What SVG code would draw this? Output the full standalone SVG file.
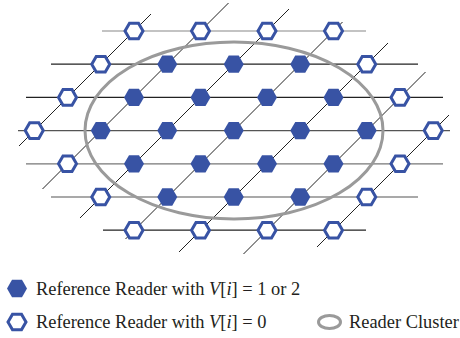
<svg xmlns="http://www.w3.org/2000/svg" xmlns:xlink="http://www.w3.org/1999/xlink" width="460" height="338" viewBox="0 0 460 338">
  <style>
    .diag { stroke: #222; stroke-width: 1; fill: none; }
    .row { stroke-width: 1.2; fill: none; }
    .cluster { fill: none; stroke: #9a9a9a; stroke-width: 3; }
    .active { fill: #3853a4; }
    .idle { fill: #fff; stroke: #3853a4; stroke-width: 3; }
    .label { font-family: "Liberation Serif", "Times New Roman", serif; font-size: 18.4px; fill: #231f20; }
  </style>
  <defs>
    <!-- flat-topped hexagons for the two reader states -->
    <polygon id="hexFull" points="10,0 5,8.66 -5,8.66 -10,0 -5,-8.66 5,-8.66"/>
    <polygon id="hexOpen" points="9,0 4.5,7.8 -4.5,7.8 -9,0 -4.5,-7.8 4.5,-7.8"/>
  </defs>

  <!-- lattice connectors -->
  <g id="connectors">
    <line class="row" stroke="#888" x1="102" y1="31" x2="366" y2="31"/>
    <line class="row" stroke="#222" x1="51" y1="64.2" x2="418" y2="64.2"/>
    <line class="row" stroke="#222" x1="26" y1="97.4" x2="443" y2="97.4"/>
    <line class="row" stroke="#555" x1="18" y1="130.6" x2="450" y2="130.6"/>
    <line class="row" stroke="#777" x1="26" y1="163.8" x2="443" y2="163.8"/>
    <line class="row" stroke="#555" x1="51" y1="197" x2="418" y2="197"/>
    <line class="row" stroke="#222" x1="103" y1="230.2" x2="366" y2="230.2"/>

    <line class="diag" x1="151" y1="14" x2="19" y2="146"/>
    <line class="diag" x1="228.5" y1="3" x2="42.5" y2="189"/>
    <line class="diag" x1="289" y1="9" x2="80" y2="218"/>
    <line class="diag" x1="342.5" y1="22" x2="125.5" y2="239"/>
    <line class="diag" x1="388" y1="43" x2="179" y2="252"/>
    <line class="diag" x1="425.5" y1="72" x2="243.5" y2="254"/>
    <line class="diag" x1="449" y1="115" x2="317" y2="247"/>
  </g>

  <!-- reader cluster boundary -->
  <ellipse id="cluster" class="cluster" cx="234" cy="130.5" rx="149" ry="88.5"/>

  <!-- row 0 -->
  <g id="n0_4"><use xlink:href="#hexOpen" class="idle" x="134" y="31"/></g>
  <g id="n0_6"><use xlink:href="#hexOpen" class="idle" x="200.5" y="31"/></g>
  <g id="n0_8"><use xlink:href="#hexOpen" class="idle" x="267" y="31"/></g>
  <g id="n0_10"><use xlink:href="#hexOpen" class="idle" x="333.5" y="31"/></g>
  <!-- row 1 -->
  <g id="n1_3"><use xlink:href="#hexOpen" class="idle" x="100.75" y="64.2"/></g>
  <g id="n1_5"><use xlink:href="#hexFull" class="active" x="167.25" y="64.2"/></g>
  <g id="n1_7"><use xlink:href="#hexFull" class="active" x="233.75" y="64.2"/></g>
  <g id="n1_9"><use xlink:href="#hexFull" class="active" x="300.25" y="64.2"/></g>
  <g id="n1_11"><use xlink:href="#hexOpen" class="idle" x="366.75" y="64.2"/></g>
  <!-- row 2 -->
  <g id="n2_2"><use xlink:href="#hexOpen" class="idle" x="67.5" y="97.4"/></g>
  <g id="n2_4"><use xlink:href="#hexFull" class="active" x="134" y="97.4"/></g>
  <g id="n2_6"><use xlink:href="#hexFull" class="active" x="200.5" y="97.4"/></g>
  <g id="n2_8"><use xlink:href="#hexFull" class="active" x="267" y="97.4"/></g>
  <g id="n2_10"><use xlink:href="#hexFull" class="active" x="333.5" y="97.4"/></g>
  <g id="n2_12"><use xlink:href="#hexOpen" class="idle" x="400" y="97.4"/></g>
  <!-- row 3 -->
  <g id="n3_1"><use xlink:href="#hexOpen" class="idle" x="34.25" y="130.6"/></g>
  <g id="n3_3"><use xlink:href="#hexFull" class="active" x="100.75" y="130.6"/></g>
  <g id="n3_5"><use xlink:href="#hexFull" class="active" x="167.25" y="130.6"/></g>
  <g id="n3_7"><use xlink:href="#hexFull" class="active" x="233.75" y="130.6"/></g>
  <g id="n3_9"><use xlink:href="#hexFull" class="active" x="300.25" y="130.6"/></g>
  <g id="n3_11"><use xlink:href="#hexFull" class="active" x="366.75" y="130.6"/></g>
  <g id="n3_13"><use xlink:href="#hexOpen" class="idle" x="433.25" y="130.6"/></g>
  <!-- row 4 -->
  <g id="n4_2"><use xlink:href="#hexOpen" class="idle" x="67.5" y="163.8"/></g>
  <g id="n4_4"><use xlink:href="#hexFull" class="active" x="134" y="163.8"/></g>
  <g id="n4_6"><use xlink:href="#hexFull" class="active" x="200.5" y="163.8"/></g>
  <g id="n4_8"><use xlink:href="#hexFull" class="active" x="267" y="163.8"/></g>
  <g id="n4_10"><use xlink:href="#hexFull" class="active" x="333.5" y="163.8"/></g>
  <g id="n4_12"><use xlink:href="#hexOpen" class="idle" x="400" y="163.8"/></g>
  <!-- row 5 -->
  <g id="n5_3"><use xlink:href="#hexOpen" class="idle" x="100.75" y="197"/></g>
  <g id="n5_5"><use xlink:href="#hexFull" class="active" x="167.25" y="197"/></g>
  <g id="n5_7"><use xlink:href="#hexFull" class="active" x="233.75" y="197"/></g>
  <g id="n5_9"><use xlink:href="#hexFull" class="active" x="300.25" y="197"/></g>
  <g id="n5_11"><use xlink:href="#hexOpen" class="idle" x="366.75" y="197"/></g>
  <!-- row 6 -->
  <g id="n6_4"><use xlink:href="#hexOpen" class="idle" x="134" y="230.2"/></g>
  <g id="n6_6"><use xlink:href="#hexOpen" class="idle" x="200.5" y="230.2"/></g>
  <g id="n6_8"><use xlink:href="#hexOpen" class="idle" x="267" y="230.2"/></g>
  <g id="n6_10"><use xlink:href="#hexOpen" class="idle" x="333.5" y="230.2"/></g>

  <!-- legend -->
  <g id="legend">
    <use xlink:href="#hexFull" class="active" x="17" y="288.5"/>
    <text class="label" x="36" y="294.5">Reference Reader with <tspan font-style="italic">V</tspan>[<tspan font-style="italic">i</tspan>] = 1 or 2</text>
    <use xlink:href="#hexOpen" class="idle" x="17" y="322"/>
    <text class="label" x="36" y="327.5">Reference Reader with <tspan font-style="italic">V</tspan>[<tspan font-style="italic">i</tspan>] = 0</text>
    <ellipse class="cluster" cx="329.5" cy="322" rx="11" ry="6.5"/>
    <text class="label" x="349" y="327.5">Reader Cluster</text>
  </g>
</svg>
